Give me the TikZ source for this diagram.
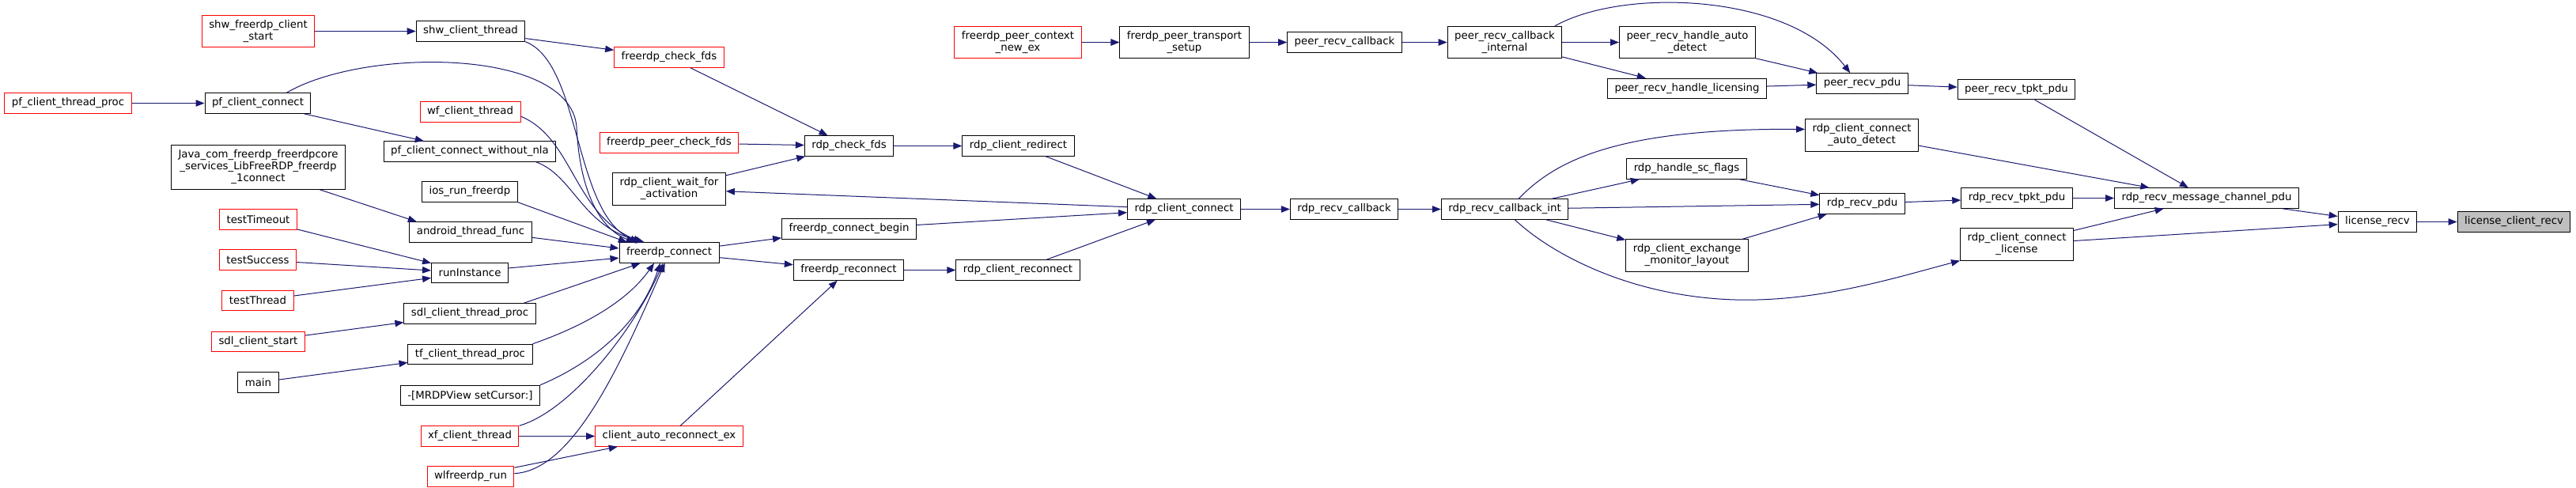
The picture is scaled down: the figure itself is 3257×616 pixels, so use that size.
\documentclass[tikz,border=0pt]{standalone}
\usepackage{fontspec}
\setmainfont{DejaVu Sans}
\usetikzlibrary{arrows.meta}
\definecolor{edgeblue}{HTML}{191970}
\definecolor{boxgray}{HTML}{BFBFBF}

\begin{document}
\begin{tikzpicture}[x=1pt, y=-1pt,
    fn/.style={draw=black, line width=1pt, fill=white, inner xsep=9pt, inner ysep=6pt,
        minimum height=25.5pt, align=center, font=\fontsize{13.3}{15}\selectfont},
    ext/.style={fn, draw=red},
    cur/.style={fn, fill=boxgray},
    call/.style={draw=edgeblue, line width=1pt, -{Triangle[length=11pt, width=8.5pt]}}]
\useasboundingbox (0,0) rectangle (3257,616);

\node [ext] (shwstart) at (326.5,39.5) {shw\_freerdp\_client\\\_start};
\node [fn] (shwthread) at (595,39.5) {shw\_client\_thread};
\node [ext] (checkfds) at (846,72.5) {freerdp\_check\_fds};
\node [ext] (pfproc) at (86,130.5) {pf\_client\_thread\_proc};
\node [fn] (pfconnect) at (326,130.5) {pf\_client\_connect};
\node [ext] (wfthread) at (594.5,141.5) {wf\_client\_thread};
\node [fn] (pfnonla) at (594,191.5) {pf\_client\_connect\_without\_nla};
\node [ext] (peercheckfds) at (846,180.5) {freerdp\_peer\_check\_fds};
\node [fn] (waitact) at (846,239) {rdp\_client\_wait\_for\\\_activation};
\node [fn] (java) at (326.5,211.5) {Java\_com\_freerdp\_freerdpcore\\\_services\_LibFreeRDP\_freerdp\\\_1connect};
\node [fn] (iosrun) at (594,242.5) {ios\_run\_freerdp};
\node [ext] (testtimeout) at (326.5,277.5) {testTimeout};
\node [fn] (android) at (595,293.5) {android\_thread\_func};
\node [fn] (fconnect) at (846,319.5) {freerdp\_connect};
\node [ext] (testsuccess) at (326,328.5) {testSuccess};
\node [fn] (runinstance) at (594,345) {runInstance};
\node [ext] (testthread) at (326,380) {testThread};
\node [fn] (sdlproc) at (594,396.5) {sdl\_client\_thread\_proc};
\node [ext] (sdlstart) at (326.5,432) {sdl\_client\_start};
\node [fn] (tfproc) at (594.5,448) {tf\_client\_thread\_proc};
\node [fn] (mainfn) at (326.5,483.5) {main};
\node [fn] (mrdp) at (594.5,500) {-[MRDPView setCursor:]};
\node [ext] (xfthread) at (594,551.5) {xf\_client\_thread};
\node [ext] (autoreconn) at (846,551.5) {client\_auto\_reconnect\_ex};
\node [ext] (wlrun) at (595,602.5) {wlfreerdp\_run};
\node [ext] (peerctx) at (1287,53.5) {freerdp\_peer\_context\\\_new\_ex};
\node [fn] (transport) at (1497.5,53.5) {frerdp\_peer\_transport\\\_setup};
\node [fn] (rdpcheckfds) at (1073.5,184.5) {rdp\_check\_fds};
\node [fn] (redirect) at (1287.5,184.5) {rdp\_client\_redirect};
\node [fn] (rdpconnect) at (1497,264.5) {rdp\_client\_connect};
\node [fn] (connbegin) at (1073.5,289.5) {freerdp\_connect\_begin};
\node [fn] (freconnect) at (1073,341.5) {freerdp\_reconnect};
\node [fn] (rdpreconnect) at (1287,341.5) {rdp\_client\_reconnect};
\node [fn] (peercb) at (1700,53.5) {peer\_recv\_callback};
\node [fn] (peercbint) at (1902.5,53.5) {peer\_recv\_callback\\\_internal};
\node [fn] (peerauto) at (2133.5,53.5) {peer\_recv\_handle\_auto\\\_detect};
\node [fn] (peerlic) at (2133,112) {peer\_recv\_handle\_licensing};
\node [fn] (peerpdu) at (2354.5,105.5) {peer\_recv\_pdu};
\node [fn] (rdpcb) at (1699.5,264.5) {rdp\_recv\_callback};
\node [fn] (rdpcbint) at (1902.5,264.5) {rdp\_recv\_callback\_int};
\node [fn] (connautodet) at (2354,171) {rdp\_client\_connect\\\_auto\_detect};
\node [fn] (scflags) at (2132.5,213.5) {rdp\_handle\_sc\_flags};
\node [fn] (monlayout) at (2133,323) {rdp\_client\_exchange\\\_monitor\_layout};
\node [fn] (rdppdu) at (2354.5,257.5) {rdp\_recv\_pdu};
\node [fn] (peertpkt) at (2549.5,113) {peer\_recv\_tpkt\_pdu};
\node [fn] (rdptpkt) at (2550,250.5) {rdp\_recv\_tpkt\_pdu};
\node [fn] (connlic) at (2550,309) {rdp\_client\_connect\\\_license};
\node [fn] (msgchan) at (2790,250.5) {rdp\_recv\_message\_channel\_pdu};
\node [fn] (lrecv) at (3006,280.5) {license\_recv};
\node [cur] (lcrecv) at (3178.5,280.5) {license\_client\_recv};

\draw [call] (shwstart) -- (shwthread);
\draw [call] (shwthread) -- (checkfds);
\draw [call] (shwthread.south east) .. controls (735,80) and (725,270) .. (fconnect.161);
\draw [call] (pfproc) -- (pfconnect);
\draw [call] (pfconnect.20) .. controls (460,60) and (720,60) .. (729,160) .. controls (733,245) and (760,290) .. (fconnect.163);
\draw [call] (pfconnect) -- (pfnonla);
\draw [call] (wfthread.-5) .. controls (725,175) and (725,270) .. (fconnect.159);
\draw [call] (pfnonla.-9) .. controls (725,222) and (735,285) .. (fconnect.157);
\draw [call] (java.-20) -- (android.169);
\draw [call] (iosrun.south east) -- (fconnect.166);
\draw [call] (android.-5) -- (fconnect.175);
\draw [call] (testtimeout) -- (runinstance);
\draw [call] (testsuccess) -- (runinstance);
\draw [call] (testthread) -- (runinstance);
\draw [call] (runinstance.7) -- (fconnect.-174);
\draw [call] (sdlstart) -- (sdlproc);
\draw [call] (sdlproc.11) -- (fconnect.-160);
\draw [call] (mainfn) -- (tfproc);
\draw [call] (tfproc.north east) .. controls (730,415) and (790,385) .. (fconnect.-145);
\draw [call] (mrdp.north east) .. controls (735,465) and (805,420) .. (fconnect.-130);
\draw [call] (xfthread.north east) .. controls (720,520) and (800,420) .. (fconnect.-120);
\draw [call] (xfthread) -- (autoreconn);
\draw [call] (wlrun) -- (autoreconn);
\draw [call] (wlrun.4) .. controls (725,595) and (785,460) .. (fconnect.-112);
\draw [call] (autoreconn) -- (freconnect);
\draw [call] (fconnect) -- (connbegin);
\draw [call] (fconnect) -- (freconnect);
\draw [call] (checkfds) -- (rdpcheckfds);
\draw [call] (peercheckfds) -- (rdpcheckfds);
\draw [call] (waitact) -- (rdpcheckfds);
\draw [call] (rdpconnect) -- (waitact);
\draw [call] (rdpcheckfds) -- (redirect);
\draw [call] (redirect) -- (rdpconnect);
\draw [call] (connbegin) -- (rdpconnect);
\draw [call] (freconnect) -- (rdpreconnect);
\draw [call] (rdpreconnect) -- (rdpconnect);
\draw [call] (rdpconnect) -- (rdpcb);
\draw [call] (peerctx) -- (transport);
\draw [call] (transport) -- (peercb);
\draw [call] (peercb) -- (peercbint);
\draw [call] (peercbint) -- (peerauto);
\draw [call] (peercbint) -- (peerlic);
\draw [call] (peercbint.18) .. controls (2050,-15) and (2260,-10) .. (peerpdu.139);
\draw [call] (peerauto) -- (peerpdu);
\draw [call] (peerlic) -- (peerpdu);
\draw [call] (peerpdu) -- (peertpkt);
\draw [call] (peertpkt) -- (msgchan);
\draw [call] (rdpcb) -- (rdpcbint);
\draw [call] (rdpcbint.37) .. controls (1965,205) and (2040,162) .. (connautodet.174);
\draw [call] (rdpcbint) -- (scflags);
\draw [call] (rdpcbint) -- (rdppdu);
\draw [call] (rdpcbint) -- (monlayout);
\draw [call] (rdpcbint.-46) .. controls (1960,320) and (2060,375) .. (2194,379) .. controls (2300,382) and (2400,350) .. (connlic.south west);
\draw [call] (scflags) -- (rdppdu);
\draw [call] (monlayout) -- (rdppdu);
\draw [call] (rdppdu) -- (rdptpkt);
\draw [call] (connautodet) -- (msgchan);
\draw [call] (rdptpkt) -- (msgchan);
\draw [call] (connlic) -- (msgchan);
\draw [call] (connlic) -- (lrecv);
\draw [call] (msgchan) -- (lrecv);
\draw [call] (lrecv) -- (lcrecv);
\end{tikzpicture}
\end{document}
